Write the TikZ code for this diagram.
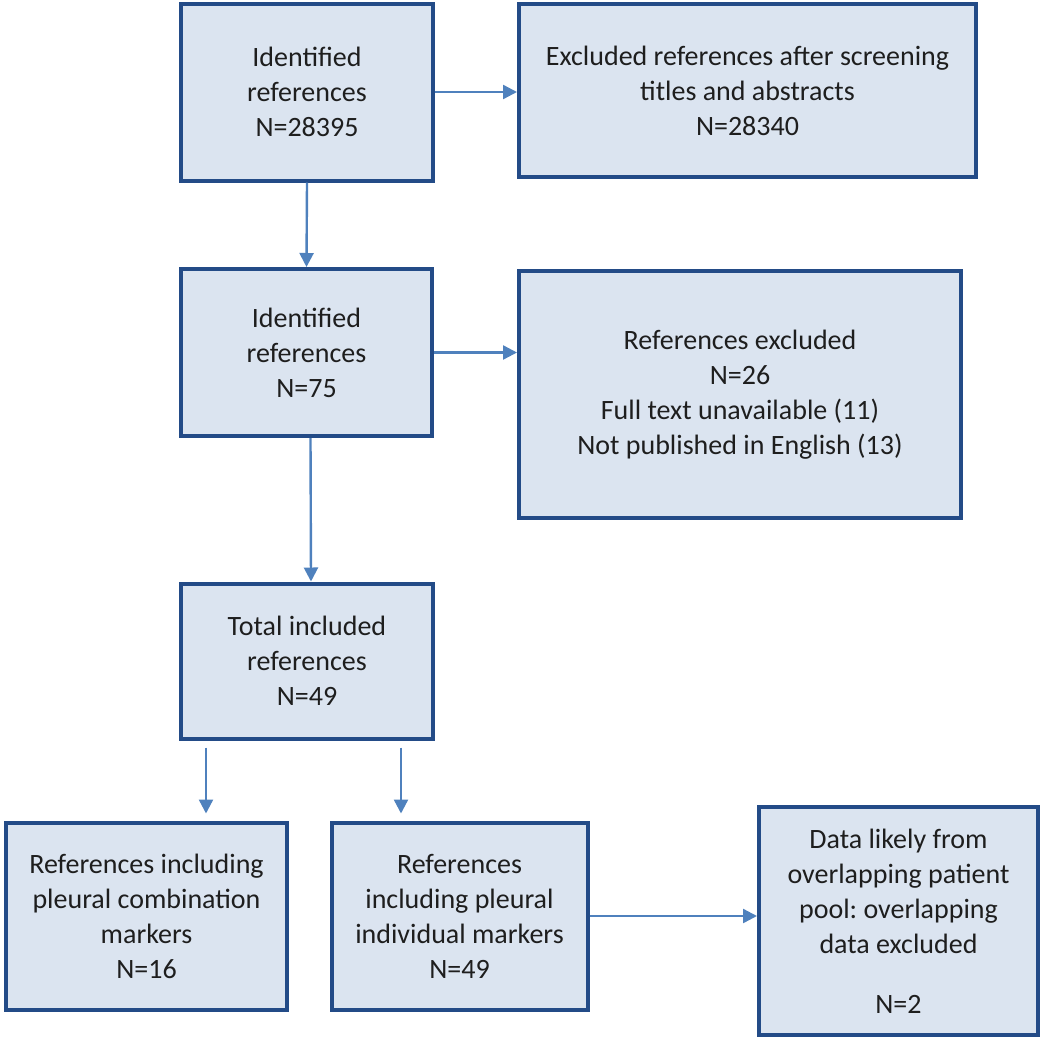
\documentclass[tikz,border=0pt]{standalone}
\usepackage{fontspec}
\setmainfont{Carlito}
\usetikzlibrary{arrows.meta}
\definecolor{boxfill}{RGB}{219,228,240}
\definecolor{boxline}{RGB}{35,75,135}
\definecolor{arrowc}{RGB}{79,129,189}
\definecolor{txt}{RGB}{30,30,30}
\tikzset{
  flowbox/.style={draw=boxline, fill=boxfill, line width=2pt, align=center,
    inner sep=0pt, text=txt, font=\fontsize{14}{17.5}\selectfont},
  flowarrow/.style={draw=arrowc, line width=1.2pt,
    -{Triangle[length=7pt,width=7pt]}}
}
\frenchspacing
\begin{document}
\begin{tikzpicture}[x=0.5pt,y=-0.5pt]
\useasboundingbox (0,0) rectangle (1050,1039);
\node[flowbox, minimum width=126pt, minimum height=88.5pt] (b1) at (307,92)
  {Identified\\references\\N=28395};
\node[flowbox, minimum width=228.5pt, minimum height=86.5pt] (b2) at (747.5,90.5)
  {Excluded references after screening\\titles and abstracts\\N=28340};
\node[flowbox, minimum width=125.5pt, minimum height=83.5pt] (b3) at (306.5,352.5)
  {Identified\\references\\N=75};
\node[flowbox, minimum width=221pt, minimum height=123.5pt] (b4) at (740,394.5)
  {References excluded\\N=26\\Full text unavailable (11)\\Not published in English (13)};
\node[flowbox, minimum width=126pt, minimum height=77.5pt] (b5) at (307,661)
  {Total included\\references\\N=49};
\node[flowbox, minimum width=140.5pt, minimum height=93.5pt] (b6) at (146.5,916)
  {References including\\pleural combination\\markers\\N=16};
\node[flowbox, minimum width=128pt, minimum height=93.5pt] (b7) at (459.5,916)
  {References\\including pleural\\individual markers\\N=49};
\node[flowbox, minimum width=139.5pt, minimum height=114pt] (b8) at (898.5,921)
  {Data likely from\\overlapping patient\\pool: overlapping\\data excluded\\[12.5pt]N=2};
\draw[flowarrow] (b1.east) -- (b1.east -| b2.west);
\draw[flowarrow] (b1.south) -- (b3.north);
\draw[flowarrow] (b3.east) -- (b3.east -| b4.west);
\draw[flowarrow] ([xshift=2pt]b3.south) -- ([xshift=2pt]b5.north);
\coordinate (s1) at ([shift={(13.5pt,-3.5pt)}]b5.south west);
\coordinate (s2) at ([shift={(-17pt,-3.5pt)}]b5.south east);
\draw[flowarrow, shorten >=3.5pt] (s1) -- (s1 |- b6.north);
\draw[flowarrow, shorten >=3.5pt] (s2) -- (s2 |- b7.north);
\draw[flowarrow] (b7.east) -- (b7.east -| b8.west);
\end{tikzpicture}
\end{document}
